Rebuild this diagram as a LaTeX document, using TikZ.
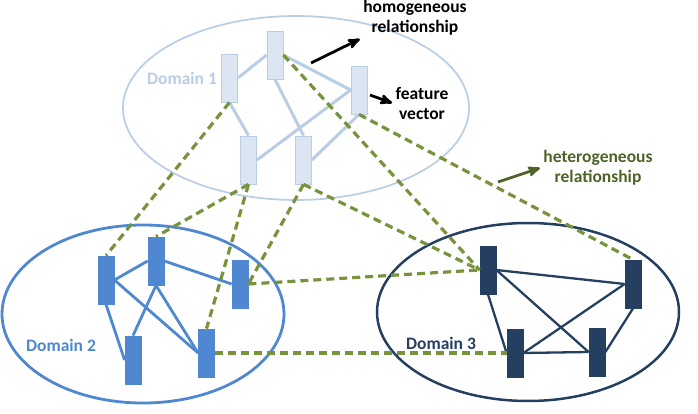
\documentclass[tikz,border=0pt]{standalone}
\usepackage{xcolor}
\usepackage{fontspec}
\setmainfont{Carlito}
\usepackage{tikz}
\usetikzlibrary{arrows, positioning}
\definecolor{lightdom}{HTML}{B9CDE5}
\definecolor{lightfill}{HTML}{DCE6F2}
\definecolor{middom}{HTML}{4F88D0}
\definecolor{darkdom}{HTML}{243F60}
\definecolor{hetero}{HTML}{77933C}
\definecolor{heterotext}{HTML}{4F6228}

\begin{document}
\begin{tikzpicture}[x=1pt, y=-1pt,
				>=stealth',
				font=\fontsize{17.5}{20}\selectfont\bfseries,
				vecone/.style={draw=lightdom, fill=lightfill, line width=0.8pt, minimum width=16pt, minimum height=48pt, inner sep=0pt},
				vectwo/.style={draw=middom, fill=middom, line width=0.8pt, minimum width=16pt, minimum height=48pt, inner sep=0pt},
				vecthree/.style={draw=darkdom, fill=darkdom, line width=0.8pt, minimum width=16pt, minimum height=48pt, inner sep=0pt},
				homone/.style={draw=lightdom, line width=3pt},
				homtwo/.style={draw=middom, line width=2.8pt},
				homthree/.style={draw=darkdom, line width=2.3pt},
				het/.style={draw=hetero, line width=3.2pt, dash pattern=on 8pt off 5pt},
				pointer/.style={->, line width=2.8pt}]
				\useasboundingbox (0,0) rectangle (698,414);
				% domains
				\draw[lightdom, line width=1.7pt] (296,108) ellipse [x radius=173, y radius=92];
				\draw[middom, line width=2.8pt] (143,314) ellipse [x radius=141, y radius=89];
				\draw[darkdom, line width=2.5pt] (528,312) ellipse [x radius=151, y radius=89];
				% domain 1
				\node at (229.5,78) (a) [vecone] {};
				\node at (275,55) (b) [vecone] {};
				\node at (359,90) (c) [vecone] {};
				\node at (248.5,160) (d) [vecone] {};
				\node at (303.5,160) (e) [vecone] {};
				\node at (182,78) (lab1) [text=lightdom] {Domain 1};
				% domain 2
				\node at (106,280) (f) [vectwo] {};
				\node at (156,261) (g) [vectwo] {};
				\node at (240,284) (h) [vectwo] {};
				\node at (133,360) (i) [vectwo] {};
				\node at (206.5,353) (j) [vectwo] {};
				\node at (61,345) (lab2) [text=middom] {Domain 2};
				% domain 3
				\node at (488,270) (k) [vecthree] {};
				\node at (633,284) (l) [vecthree] {};
				\node at (515,353) (m) [vecthree] {};
				\node at (597,352) (n) [vecthree] {};
				\node at (441,343) (lab3) [text=darkdom] {Domain 3};
				% homogeneous links
				\draw[homone] (a.east) -- (b.west);
				\draw[homone] (b.south) -- (e.north);
				\draw[homone] (b.east) -- (c.west);
				\draw[homone] (a.south) -- (d.north);
				\draw[homone] (c.west) -- (d.east);
				\draw[homone] (c.south) -- (e.east);
				\draw[homtwo] (f.east) -- (g.west);
				\draw[homtwo] (g.east) -- (h.west);
				\draw[homtwo] (g.south) -- (i.north);
				\draw[homtwo] (g.south) -- (j.west);
				\draw[homtwo] (f.south) -- (i.west);
				\draw[homtwo] (f.east) -- (j.west);
				\draw[homthree] (k.east) -- (l.west);
				\draw[homthree] (k.east) -- (n.west);
				\draw[homthree] (k.south) -- (m.west);
				\draw[homthree] (m.east) -- (l.west);
				\draw[homthree] (m.east) -- (n.west);
				\draw[homthree] (n.east) -- (l.south);
				% heterogeneous links
				\draw[het] (a.south) -- (f.north);
				\draw[het] (d.south) -- (g.north);
				\draw[het] (d.south) -- (j.north);
				\draw[het] (e.south) -- (h.east);
				\draw[het] (e.south) -- (k.west);
				\draw[het] (b.east) -- (k.west);
				\draw[het] (c.south) -- (l.north);
				\draw[het] (h.east) -- (k.west);
				\draw[het] (j.east) -- (m.west);
				% labels
				\node at (415,18) (homlab) [align=center] {homogeneous\\relationship};
				\node at (422,103) (veclab) [align=center] {feature\\vector};
				\node at (598,168) (hetlab) [align=center, text=heterotext] {heterogeneous\\relationship};
				\coordinate (homtail) at (311,63);
				\coordinate (vectail) at (370,95);
				\coordinate (hettail) at (498,182);
				\draw[pointer] (homtail) -- (homlab.south west);
				\draw[pointer] (vectail) -- (veclab.west);
				\draw[pointer, heterotext] (hettail) -- (hetlab.west);
			\end{tikzpicture}
\end{document}
